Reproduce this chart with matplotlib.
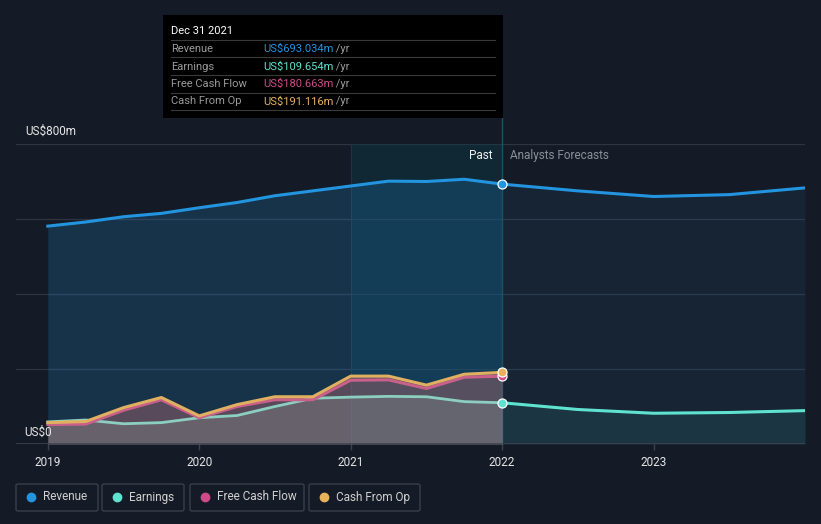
"""
Revenue / earnings / cash flow history and forecast chart.
"""

import matplotlib
matplotlib.use('Agg')
import matplotlib.pyplot as plt
from matplotlib.patches import Rectangle, FancyBboxPatch
from matplotlib.lines import Line2D

plt.rcParams['font.family'] = ['Roboto', 'DejaVu Sans']

W, H = 821, 524
BG = '#151b26'

# quarterly history (US$m)
past_years = [2019.0, 2019.25, 2019.5, 2019.75, 2020.0, 2020.25, 2020.5, 2020.75,
              2021.0, 2021.25, 2021.5, 2021.75, 2022.0]
revenue_past = [581, 592, 606, 615, 630, 644, 662, 675, 688, 701, 700, 706, 693]
earnings_past = [59, 64, 54, 57, 70, 76, 100, 122, 125, 127, 126, 113, 110]
fcf_past = [52, 53, 90, 118, 70, 100, 118, 118, 170, 171, 148, 178, 181]
cfo_past = [57, 60, 97, 124, 75, 105, 126, 126, 181, 181, 157, 186, 191]

# analyst forecasts (US$m)
fc_years = [2022.0, 2022.5, 2023.0, 2023.5, 2024.0]
revenue_fc = [693, 675, 660, 665, 683]
earnings_fc = [110, 92, 82, 84, 89]

x_ticks = [2019, 2020, 2021, 2022, 2023]

tooltip_date = 'Dec 31 2021'
tooltip_rows = [('Revenue', 'US$693.034m', '#2394df'),
                ('Earnings', 'US$109.654m', '#5fe3d0'),
                ('Free Cash Flow', 'US$180.663m', '#d04a8a'),
                ('Cash From Op', 'US$191.116m', '#e8b25c')]

C_REV = '#2394df'
C_EARN = '#5fe3d0'
C_FCF = '#d04a8a'
C_CFO = '#e8b25c'


def px(x, y):
    """pixel coords (top-left origin) -> figure fraction"""
    return x / W, 1 - y / H


fig = plt.figure(figsize=(W / 100, H / 100), dpi=100, facecolor=BG)
l, b = px(16, 444)
r, t = px(805, 144)
ax = fig.add_axes([l, b, r - l, t - b])
ax.set_facecolor(BG)
ax.set_xlim(2018.79, 2024.0)
ax.set_ylim(0, 800)

# grid
for v in [200, 400, 600, 800]:
    ax.axhline(v, color='#2e3541', lw=0.9, zorder=1)
ax.axhline(0, color='#3d434e', lw=1.2, zorder=6)

# past highlight band
ax.axvspan(2021, 2022, color='#0b3848', alpha=0.42, lw=0, zorder=1)
ax.axvline(2021, color='#24323d', lw=0.8, zorder=2)

# revenue area
ax.fill_between(past_years, revenue_past, color=C_REV, alpha=0.2, lw=0, zorder=2)
ax.fill_between(fc_years, revenue_fc, color=C_REV, alpha=0.08, lw=0, zorder=2)

# cash areas (past only)
ax.fill_between(past_years, cfo_past, color='#a8686e', alpha=0.45, lw=0, zorder=3)
ax.fill_between(past_years, earnings_past, color='#8a9898', alpha=0.3, lw=0, zorder=3)
ax.fill_between(fc_years, earnings_fc, color=C_EARN, alpha=0.09, lw=0, zorder=3)

# lines
ax.plot(past_years, revenue_past, color=C_REV, lw=2.2, zorder=5, solid_joinstyle='round')
ax.plot(fc_years, revenue_fc, color=C_REV, lw=2.2, zorder=5, solid_joinstyle='round')
ax.plot(past_years, earnings_past, color='#8ccfc0', lw=2.0, zorder=4, solid_joinstyle='round')
ax.plot(fc_years, earnings_fc, color=C_EARN, lw=2.2, zorder=5, solid_joinstyle='round')
ax.plot(past_years, fcf_past, color='#c8608a', lw=2.2, zorder=4, solid_joinstyle='round')
ax.plot(past_years, cfo_past, color='#e0b060', lw=2.2, zorder=4, solid_joinstyle='round')

# end-of-history markers
for vals, c in [(fcf_past, C_FCF), (cfo_past, C_CFO), (earnings_past, C_EARN),
                (revenue_past, C_REV)]:
    ax.plot(past_years[-1], vals[-1], 'o', ms=6.5, color=c, mec='white', mew=0.9,
            zorder=8, clip_on=False)

# divider at today, running up to tooltip
ax.axvline(2022, ymin=0, ymax=(444 - 118) / 300, color='#1c5268', lw=1.0,
           zorder=2, clip_on=False)

# axes decoration
for s in ax.spines.values():
    s.set_visible(False)
ax.set_yticks([])
ax.set_xticks(x_ticks)
ax.set_xticklabels([str(x) for x in x_ticks])
ax.tick_params(axis='x', colors='#3d434e', length=4, width=1, pad=5,
               labelcolor='#e6e6e6', labelsize=8.5)

fig.text(*px(25, 131), 'US$800m', color='#e6e6e6', fontsize=8.5, va='center')
fig.text(*px(24, 432), 'US$0', color='#e6e6e6', fontsize=8.5, va='center')
fig.text(*px(493, 156), 'Past', color='#f0f0f0', fontsize=8.5, va='center', ha='right')
fig.text(*px(510, 156), 'Analysts Forecasts', color='#8a8f98', fontsize=8.5, va='center')

# tooltip
x0, y0 = px(163, 118)
x1, y1 = px(503, 15)
fig.patches.append(Rectangle((x0, y0), x1 - x0, y1 - y0, transform=fig.transFigure,
                             facecolor='black', edgecolor='none', zorder=10))
fig.text(*px(171, 31), tooltip_date, color='white', fontsize=8, va='center', zorder=11)
for yy in [40, 57, 75, 93, 110]:
    a, yl = px(171, yy)
    bb, _ = px(495, yy)
    fig.add_artist(Line2D([a, bb], [yl, yl], transform=fig.transFigure,
                          color='#3a3a3a', lw=0.8, zorder=11))
for i, (name, val, c) in enumerate(tooltip_rows):
    yy = 49 + i * 17.5
    fig.text(*px(171, yy), name, color='#9a9a9a', fontsize=8, va='center', zorder=11)
    vt = fig.text(*px(263, yy), val, color=c, fontsize=8, va='center', zorder=11)
    fig.add_artist(plt.Annotation(' /yr', xy=(1, 0.5), xycoords=vt, va='center',
                                  color='#9a9a9a', fontsize=8, zorder=11))

# legend boxes
legend_items = [('Revenue', C_REV, 16, 98), ('Earnings', C_EARN, 102, 184),
                ('Free Cash Flow', C_FCF, 190, 304), ('Cash From Op', C_CFO, 309, 420)]
for name, c, xa, xb in legend_items:
    bx0, by0 = px(xa, 511)
    bx1, by1 = px(xb, 484)
    fig.patches.append(FancyBboxPatch((bx0, by0), bx1 - bx0, by1 - by0,
                                      boxstyle='round,pad=0,rounding_size=0.003',
                                      transform=fig.transFigure, facecolor='none',
                                      edgecolor='#3a404b', lw=1.0))
    fig.add_artist(Line2D([px(xa + 15, 0)[0]], [px(0, 497)[1]], marker='o', ms=6,
                          color=c, lw=0, transform=fig.transFigure))
    fig.text(*px(xa + 27, 497), name, color='#d0d0d0', fontsize=8.5, va='center')

fig.savefig('out.png', dpi=100, facecolor=BG)
